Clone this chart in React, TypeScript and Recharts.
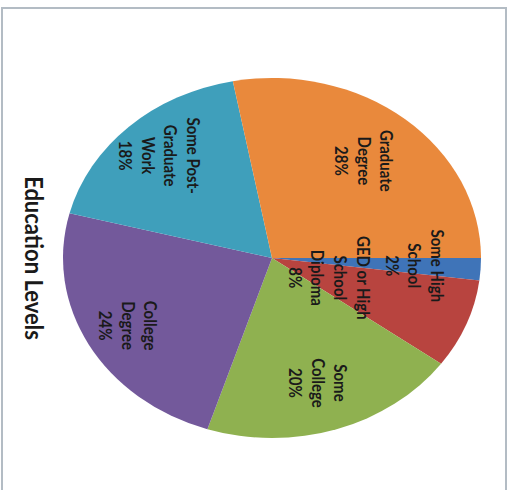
import { PieChart, Pie, Cell } from "recharts";

const CATEGORIES = [
  "Some High School",
  "GED or High School Diploma",
  "Some College",
  "College Degree",
  "Some Post-Graduate Work",
  "Graduate Degree",
];
const SHARES = [2, 8, 20, 24, 18, 28];
const LABEL_LINES = [
  ["Some High", "School"],
  ["GED or High", "School", "Diploma"],
  ["Some", "College"],
  ["College", "Degree"],
  ["Some Post-", "Graduate", "Work"],
  ["Graduate", "Degree"],
];
const TITLE = "Education Levels";

const COLORS = ["#3f74b8", "#b8443f", "#8fb150", "#73599b", "#3f9fbb", "#e9893c"];
// how far out each label sits, as a fraction of the radius
const LABEL_RADIUS = [0.69, 0.3, 0.73, 0.78, 0.78, 0.7];

const SIZE = 460;
const CX = 230;
const CY = 230;
const R = 180;
const STRETCH = 209 / 180;
const FONT = "Lato, 'Open Sans', sans-serif";
const RADIAN = Math.PI / 180;

const data = CATEGORIES.map((name, i) => ({ name, value: SHARES[i] }));

function SliceLabel(props: any) {
  const { cx, cy, midAngle, outerRadius, index, value } = props;
  const r = outerRadius * LABEL_RADIUS[index];
  const x = cx + r * Math.cos(-midAngle * RADIAN);
  const y = cy + r * Math.sin(-midAngle * RADIAN);
  const lines = [...LABEL_LINES[index], `${value}%`];
  const lh = 19.5;
  const top = y - ((lines.length - 1) * lh) / 2;
  return (
    <text
      x={x}
      y={top}
      textAnchor="middle"
      dominantBaseline="central"
      fill="#1a1a1a"
      fontFamily={FONT}
      fontWeight="bold"
      fontSize={15}
    >
      {lines.map((l, i) => (
        <tspan key={i} x={x} y={top + i * lh}>
          {l}
        </tspan>
      ))}
    </text>
  );
}

export default function App() {
  return (
    <div style={{ position: "fixed", left: 0, top: 0, width: 514, height: 490, background: "#fff", overflow: "hidden" }}>
      <div
        style={{
          position: "absolute",
          left: 1,
          top: 7,
          width: 502,
          height: 500,
          borderTop: "2px solid #b3bcc4",
          borderLeft: "2px solid #b3bcc4",
          borderRight: "2px solid #b3bcc4",
        }}
      />
      <div
        style={{
          position: "absolute",
          left: 272 - CX,
          top: 258 - CY,
          width: SIZE,
          height: SIZE,
          transformOrigin: `${CX}px ${CY}px`,
          transform: `rotate(90deg) scaleY(${STRETCH})`,
        }}
      >
        <PieChart width={SIZE} height={SIZE} margin={{ top: 0, right: 0, bottom: 0, left: 0 }}>
          <Pie
            data={data}
            dataKey="value"
            nameKey="name"
            cx={CX}
            cy={CY}
            outerRadius={R}
            startAngle={90}
            endAngle={-270}
            stroke="none"
            label={SliceLabel}
            labelLine={false}
            isAnimationActive={false}
          >
            {data.map((d, i) => (
              <Cell key={d.name} fill={COLORS[i]} />
            ))}
          </Pie>
          <text
            x={CX}
            y={CY + 204}
            textAnchor="middle"
            dominantBaseline="central"
            fontFamily={FONT}
            fontWeight="bold"
            fontSize={22}
            fill="#1a1a1a"
          >
            {TITLE}
          </text>
        </PieChart>
      </div>
    </div>
  );
}
